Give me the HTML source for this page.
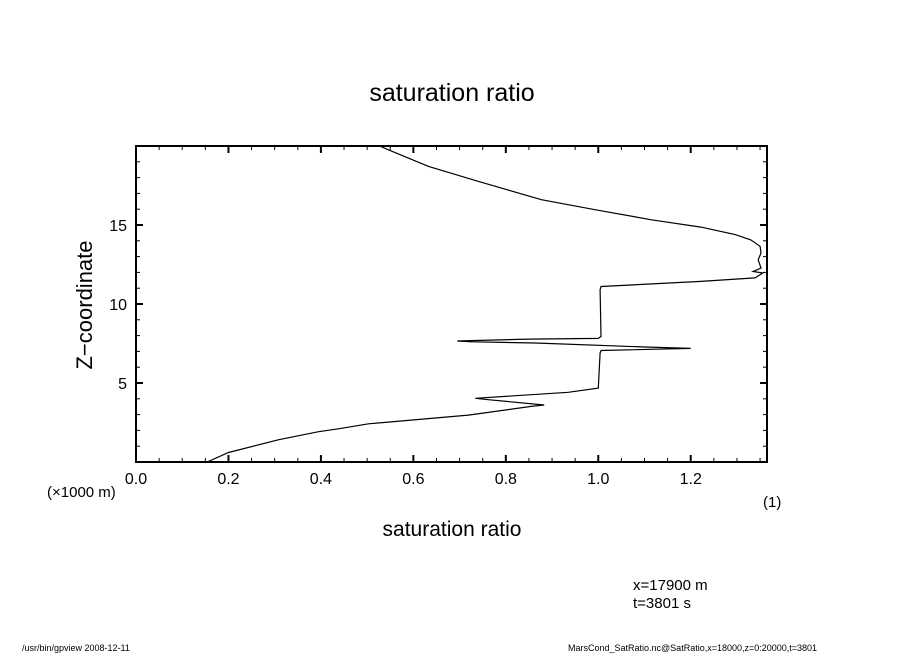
<!DOCTYPE html>
<html><head><meta charset="utf-8"><style>
body{margin:0;background:#fff;}
svg{display:block;font-family:"Liberation Sans",sans-serif;}
</style></head><body>
<svg width="904" height="654" viewBox="0 0 904 654">
<text x="452" y="101" font-size="25" text-anchor="middle">saturation ratio</text>
<g id="ticks"></g>
<rect x="136" y="146" width="631" height="316" fill="none" stroke="#000" stroke-width="2"/>
<path id="curve" fill="none" stroke="#000" stroke-width="1.2"/>
<g id="labels" font-size="16"></g>
<text transform="translate(92,305) rotate(-90)" font-size="22" text-anchor="middle">Z−coordinate</text>
<text x="47" y="497" font-size="15">(×1000 m)</text>
<text x="763" y="507" font-size="15">(1)</text>
<text x="452" y="536" font-size="21" text-anchor="middle">saturation ratio</text>
<text x="633" y="590" font-size="15">x=17900 m</text>
<text x="633" y="608" font-size="15">t=3801 s</text>
<text x="22" y="651" font-size="9">/usr/bin/gpview  2008-12-11</text>
<text x="568" y="651" font-size="9">MarsCond_SatRatio.nc@SatRatio,x=18000,z=0:20000,t=3801</text>
</svg>
<script>
const xTicks=[0,0.2,0.4,0.6,0.8,1.0,1.2];
const xTickLabels=["0.0","0.2","0.4","0.6","0.8","1.0","1.2"];
const yTicks=[5,10,15];
const yTickLabels=["5","10","15"];
const satRatio=[0.154,0.2,0.309,0.395,0.438,0.503,0.719,0.855,0.883,0.762,0.734,0.935,1.0,1.004,1.006,1.200,1.101,0.864,0.726,0.695,0.849,1.0,1.006,1.004,1.006,1.222,1.339,1.356,1.335,1.352,1.346,1.352,1.350,1.330,1.296,1.222,1.115,0.993,0.877,0.741,0.633,0.546,0.527];
const zKm=[0,0.6,1.41,1.92,2.1,2.42,2.97,3.52,3.61,3.94,4.03,4.41,4.68,6.9,7.06,7.19,7.28,7.53,7.61,7.66,7.78,7.82,7.95,10.9,11.11,11.43,11.65,11.96,12.06,12.28,12.8,13.23,13.65,14.06,14.39,14.87,15.33,15.97,16.6,17.76,18.71,19.76,20.0];
const X0=136,X1=767,Y0=462,Y1=146,XMIN=0,XMAX=1.365,YMIN=0,YMAX=20;
const sx=v=>X0+(v-XMIN)/(XMAX-XMIN)*(X1-X0);
const sy=v=>Y0-(v-YMIN)/(YMAX-YMIN)*(Y0-Y1);
const NS="http://www.w3.org/2000/svg";
let d="";
satRatio.forEach((v,i)=>{d+=(i?"L":"M")+sx(v).toFixed(1)+","+sy(zKm[i]).toFixed(1);});
document.getElementById("curve").setAttribute("d",d);
const tg=document.getElementById("ticks");
function ln(x1,y1,x2,y2,w){const l=document.createElementNS(NS,"line");l.setAttribute("x1",x1);l.setAttribute("y1",y1);l.setAttribute("x2",x2);l.setAttribute("y2",y2);l.setAttribute("stroke","#000");l.setAttribute("stroke-width",w);


tg.appendChild(l);}
for(let k=0;k*0.05<=XMAX+1e-9;k++){const v=k*0.05,maj=(k%4===0),L=maj?7:4,x=sx(v);ln(x,Y0,x,Y0-L,maj?2:1);ln(x,Y1,x,Y1+L,maj?2:1);}
for(let k=0;k<=YMAX;k++){const maj=(k%5===0),L=maj?7:4,y=sy(k);ln(X0,y,X0+L,y,maj?2:1);ln(X1,y,X1-L,y,maj?2:1);}
const lg=document.getElementById("labels");
xTicks.forEach((v,i)=>{const t=document.createElementNS(NS,"text");t.setAttribute("x",sx(v));t.setAttribute("y",484);t.setAttribute("text-anchor","middle");t.textContent=xTickLabels[i];


lg.appendChild(t);});
yTicks.forEach((v,i)=>{const t=document.createElementNS(NS,"text");t.setAttribute("x",127);t.setAttribute("y",sy(v)+6);t.setAttribute("text-anchor","end");t.textContent=yTickLabels[i];


lg.appendChild(t);});
</script>
</body></html>
